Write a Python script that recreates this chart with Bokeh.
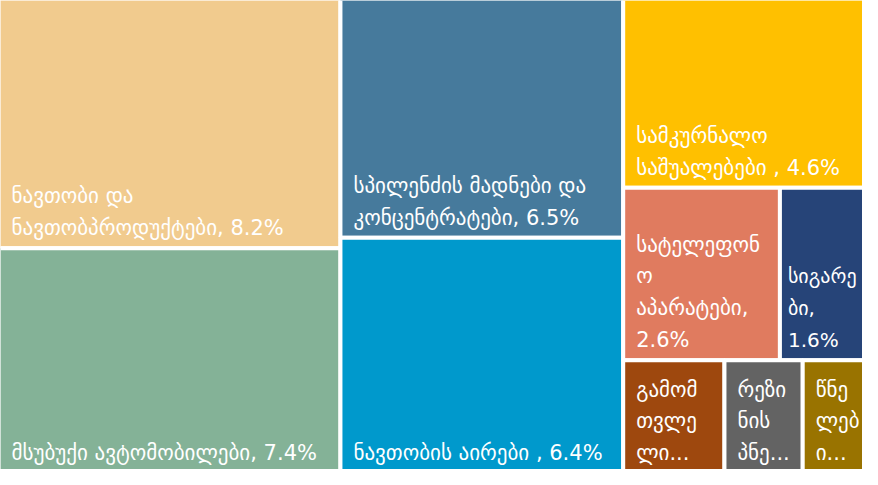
from bokeh.plotting import figure
from bokeh.models import Range1d, ColumnDataSource
from bokeh.core.properties import value, field
from bokeh.embed import file_html
from bokeh.resources import INLINE

# ---- data (share of exports, %) ----
names = [
    "ნავთობი და\nნავთობპროდუქტები",
    "მსუბუქი ავტომობილები",
    "სპილენძის მადნები და\nკონცენტრატები",
    "ნავთობის აირები ",
    "სამკურნალო\nსაშუალებები ",
    "სატელეფონ\nო\nაპარატები",
    "სიგარე\nბი",
    "გამომ\nთვლე\nლი...",
    "რეზი\nნის\nპნე...",
    "წნე\nლებ\nი...",
]
values = [8.2, 7.4, 6.5, 6.4, 4.6, 2.6, 1.6, 1.1, 0.85, 0.8]
show_pct = [True, True, True, True, True, True, True, False, False, False]
pct_sep = [", ", ", ", ", ", ", ", ", ", ",\n", ",\n", "", "", ""]
colors = ["#F1CB8E", "#84B297", "#467A9C", "#0099CC", "#FFC000",
          "#E07B5F", "#264478", "#9E480E", "#636363", "#997300"]

labels = [n + (s + f"{v:.1f}%" if sp else "")
          for n, v, sp, s in zip(names, values, show_pct, pct_sep)]


# ---- squarified treemap layout ----
def squarify(vals, x, y, w, h):
    total = sum(vals)
    areas = [v * w * h / total for v in vals]
    rects = []
    i = 0

    def worst(row, length):
        s = sum(row)
        return max(max(length * length * r / (s * s), s * s / (length * length * r)) for r in row)

    while i < len(areas):
        length = min(w, h)
        row = [areas[i]]
        j = i + 1
        while j < len(areas) and worst(row + [areas[j]], length) <= worst(row, length):
            row.append(areas[j])
            j += 1
        s = sum(row)
        if w >= h:
            cw = s / h
            yy = y
            for r in row:
                rh = r / cw
                rects.append((x, x + cw, yy, yy + rh))
                yy += rh
            x += cw
            w -= cw
        else:
            rh = s / w
            xx = x
            for r in row:
                rw = r / rh
                rects.append((xx, xx + rw, y, y + rh))
                xx += rw
            y += rh
            h -= rh
        i = j
    return rects


rects = squarify(values, 5, 1, 887, 488)

# narrow labelled boxes (clipped by the right edge) get a smaller font
fsize = ["20px" if (r[1] - r[0]) < 120 and sp else "21px"
         for r, sp in zip(rects, show_pct)]
xoff = [8 if (r[1] - r[0]) < 120 and sp else 13
        for r, sp in zip(rects, show_pct)]

src = ColumnDataSource(dict(
    left=[r[0] for r in rects], right=[r[1] for r in rects],
    top=[r[2] for r in rects], bottom=[r[3] for r in rects],
    color=colors, label=labels, fsize=fsize, xoff=xoff,
))

p = figure(width=862, height=469, output_backend="svg", toolbar_location=None,
           x_range=Range1d(7, 878), y_range=Range1d(485, 3),
           min_border=0, outline_line_color=None)
p.axis.visible = False
p.grid.visible = False
p.background_fill_color = "white"
p.border_fill_color = "white"

p.quad(left="left", right="right", top="top", bottom="bottom", source=src,
       fill_color="color", line_color="white", line_width=4)

p.text(x="left", y="bottom", text="label", source=src,
       x_offset="xoff", y_offset=-8,
       text_color="white", text_font=value("DejaVu Sans"),
       text_font_size=field("fsize"), text_baseline="bottom", text_align="left",
       text_line_height=1.33)

open("out.html", "w").write(file_html(p, INLINE))
